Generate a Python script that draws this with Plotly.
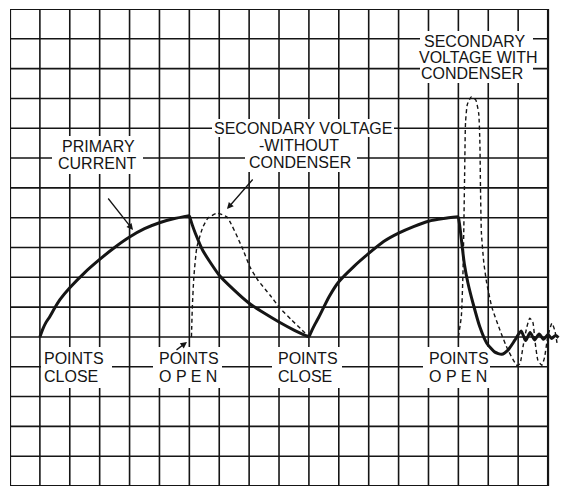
import plotly.graph_objects as go

# grid units: x = columns from the left border, y = rows from the bottom border
# primary current, first build-up (points close -> points open)
rise1_x = [1.0, 1.1, 1.2, 1.33, 1.5, 1.67, 2.0, 2.5, 3.0, 3.5, 4.0, 4.5, 5.0, 5.5, 6.0]
rise1_y = [5.0, 5.27, 5.48, 5.68, 5.98, 6.25, 6.65, 7.16, 7.6, 8.0, 8.35, 8.63, 8.83, 8.97, 9.07]

# primary current dying away without condenser
decay_x = [6.0, 6.1, 6.2, 6.45, 7.0, 7.5, 8.0, 8.5, 9.0, 9.5, 10.0]
decay_y = [9.07, 8.75, 8.48, 7.9, 7.07, 6.57, 6.13, 5.8, 5.5, 5.23, 5.0]

# primary current, second build-up
rise2_x = [10.0, 10.1, 10.2, 10.33, 10.67, 11.0, 11.5, 12.0, 12.5, 13.0, 13.5, 14.0, 14.5, 15.0]
rise2_y = [5.0, 5.22, 5.42, 5.66, 6.34, 6.85, 7.36, 7.8, 8.2, 8.48, 8.7, 8.88, 8.97, 9.03]

# primary current collapse with condenser (oscillating)
osc_x = [15.0, 15.05, 15.12, 15.2, 15.32, 15.49, 15.72, 15.95, 16.22, 16.45, 16.66, 16.89,
         17.1, 17.25, 17.4, 17.55, 17.7, 17.85, 18.0, 18.12, 18.25, 18.35]
osc_y = [9.03, 8.7, 8.1, 7.45, 6.81, 6.13, 5.33, 4.79, 4.49, 4.42, 4.56, 4.89,
         5.2, 4.88, 5.15, 4.9, 5.1, 4.92, 5.08, 4.95, 5.05, 4.98]

# secondary voltage without condenser
sec_plain_x = [6.07, 6.1, 6.15, 6.25, 6.45, 6.62, 6.92, 7.26, 7.76, 8.03, 8.29, 8.7, 9.03, 9.43, 9.77, 10.0]
sec_plain_y = [5.0, 6.0, 7.0, 8.0, 8.68, 8.98, 9.15, 9.02, 8.01, 7.34, 6.91, 6.4, 5.97, 5.56, 5.23, 5.0]

# secondary voltage with condenser
sec_cond_x = [15.0, 15.1, 15.15, 15.18, 15.21, 15.24, 15.3, 15.43, 15.58, 15.68, 15.72, 15.74, 15.77,
              15.85, 15.95, 16.12, 16.39, 16.66, 16.96, 17.06, 17.16, 17.29, 17.39, 17.49, 17.56,
              17.66, 17.79, 17.88, 17.99, 18.13, 18.23, 18.3]
sec_cond_y = [5.0, 5.7, 7.0, 8.5, 10.5, 12.2, 12.8, 13.05, 12.95, 12.5, 11.5, 10.0, 8.5,
              7.5, 6.8, 6.0, 5.23, 4.56, 4.05, 4.1, 4.66, 5.33, 5.63, 5.5, 4.9,
              4.22, 4.05, 4.3, 5.0, 5.46, 5.2, 4.8]

n_cols = 18
n_rows = 16

W, H = 561, 487
ML, MR, MT, MB = 10, 1, 9, 1
X_RANGE = [0, 18.4]
Y_RANGE = [0, 16]
sx = (W - ML - MR) / (X_RANGE[1] - X_RANGE[0])
sy = (H - MT - MB) / (Y_RANGE[1] - Y_RANGE[0])


def px(xp):
    return (xp - ML) / sx


def py(yp):
    return (H - MB - yp) / sy


INK = "#151515"
FONT = "Liberation Sans"

fig = go.Figure()

solid = dict(color=INK, width=3, shape="spline", smoothing=0.6)
dashed = dict(color=INK, width=1.4, dash="4px,3px", shape="spline", smoothing=0.5)

for xs, ys in [(rise1_x, rise1_y), (decay_x, decay_y), (rise2_x, rise2_y), (osc_x, osc_y)]:
    fig.add_trace(go.Scatter(x=xs, y=ys, mode="lines", line=solid, hoverinfo="skip"))
for xs, ys in [(sec_plain_x, sec_plain_y), (sec_cond_x, sec_cond_y)]:
    fig.add_trace(go.Scatter(x=xs, y=ys, mode="lines", line=dashed, hoverinfo="skip"))

# squared paper
shapes = []
for c in range(n_cols + 1):
    w = 2.2 if c in (0, n_cols) else 1.6
    shapes.append(dict(type="line", x0=c, x1=c, y0=0, y1=n_rows, layer="below",
                       line=dict(color=INK, width=w)))
for r in range(n_rows + 1):
    w = 2.2 if r in (0, n_rows) else 1.6
    shapes.append(dict(type="line", x0=0, x1=n_cols, y0=r, y1=r, layer="below",
                       line=dict(color=INK, width=w)))

# white patches where the grid is cut away behind the lettering (pixel boxes)
masks = [
    (52, 136, 143, 174),
    (212, 119, 394, 137),
    (245, 137, 357, 172),
    (420, 31, 533, 83),
    (41, 347, 112, 388),
    (153, 347, 222, 388),
    (272, 347, 342, 388),
    (423, 347, 490, 388),
]
for x0, y0, x1, y1 in masks:
    shapes.append(dict(type="rect", x0=px(x0), x1=px(x1), y0=py(y1), y1=py(y0),
                       layer="below", fillcolor="white", line=dict(width=0)))

annotations = []


def label(text, xp, yp, anchor="center"):
    annotations.append(dict(
        x=px(xp), y=py(yp), xref="x", yref="y", text=text, showarrow=False,
        xanchor=anchor, yanchor="middle", borderpad=0,
        font=dict(family=FONT, size=16, color=INK)))


def arrow(head, tail):
    annotations.append(dict(
        x=px(head[0]), y=py(head[1]), xref="x", yref="y", text="", showarrow=True,
        ax=tail[0] - head[0], ay=tail[1] - head[1], arrowhead=2, arrowsize=1,
        arrowwidth=1.3, arrowcolor=INK))


label("PRIMARY", 98, 146)
label("CURRENT", 97, 163)
label("SECONDARY VOLTAGE", 303, 128)
label("-WITHOUT", 299, 145)
label("CONDENSER", 300, 162)
label("SECONDARY", 474, 41)
label("VOLTAGE WITH", 478, 57)
label("CONDENSER", 472, 73)
for left, bottom in [(43, "CLOSE"), (158, "O P E N"), (277, "CLOSE"), (428, "O P E N")]:
    label("POINTS", left, 358, anchor="left")
    label(bottom, left, 376, anchor="left")

arrow((133, 230), (107, 197))
arrow((227, 209), (254, 178))
arrow((187, 342), (175, 351))

fig.update_layout(
    width=W, height=H,
    margin=dict(l=ML, r=MR, t=MT, b=MB),
    paper_bgcolor="white", plot_bgcolor="white",
    showlegend=False,
    shapes=shapes, annotations=annotations,
    xaxis=dict(range=X_RANGE, visible=False, fixedrange=True),
    yaxis=dict(range=Y_RANGE, visible=False, fixedrange=True),
)

fig.write_html("out.html", config={"displayModeBar": False},
               post_script="document.body.style.margin='0';document.body.style.overflow='hidden';")
